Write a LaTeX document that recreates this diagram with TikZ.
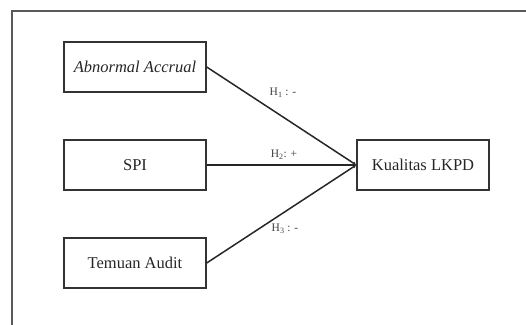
\documentclass[tikz,border=0pt]{standalone}
\usepackage{fontspec}
\setmainfont{Liberation Serif}
\usetikzlibrary{arrows.meta}
\tikzset{
  boxnode/.style={draw=black!80, line width=1.4pt, minimum width=142pt, minimum height=50pt, inner sep=0pt, font=\fontsize{16.5}{19}\selectfont, text=black!85},
  conn/.style={draw=black!85, line width=1.5pt, -{Latex[length=3.5pt,width=3.5pt]}},
  hlab/.style={font=\fontsize{11.5}{13}\selectfont, text=black!75, inner sep=0pt}
}
\begin{document}
\begin{tikzpicture}[x=1pt,y=1pt]
\useasboundingbox (0,0) rectangle (526,324);
\clip (0,0) rectangle (526,324);
\draw[draw=black!65, line width=1.4pt] (12,-20) -- (12,313) -- (560,313);
\node[boxnode] (aa) at (135,257) {\textit{Abnormal Accrual}};
\node[boxnode] (spi) at (135,159) {SPI};
\node[boxnode] (ta) at (135,61) {Temuan Audit};
\node[boxnode, minimum width=132pt] (kl) at (423,159) {Kualitas LKPD};
\draw[conn] (aa.east) -- (kl.west);
\draw[conn] (spi.east) -- (kl.west);
\draw[conn] (ta.east) -- (kl.west);
\node[hlab] (h1) at (283,231) {H\textsubscript{1} : -};
\node[hlab] (h2) at (284,169) {H\textsubscript{2}: +};
\node[hlab] (h3) at (285,95) {H\textsubscript{3} : -};
\end{tikzpicture}
\end{document}
